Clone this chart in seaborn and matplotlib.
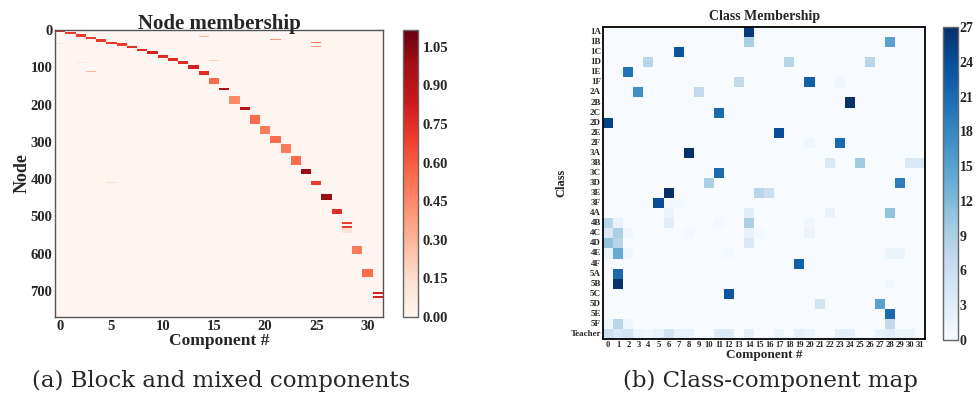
import numpy as np
import pandas as pd
import matplotlib
matplotlib.use("Agg")
import matplotlib.pyplot as plt
import seaborn as sns

sns.set_theme(style="white")
plt.rcParams['font.family'] = ['Liberation Serif', 'DejaVu Serif']
plt.rcParams['font.weight'] = 'bold'

# ---------------- Panel (a): node membership blocks ----------------
n_nodes = 770
n_comp = 32
block_comp  = [0, 1, 2, 3, 4, 5, 6, 7, 8, 9, 10, 11, 12, 13, 14, 15, 16, 17, 18, 19,
               20, 21, 22, 23, 24, 25, 26, 27, 28, 28, 28, 29, 30, 31, 31]
block_start = [0, 6, 12, 18, 25, 31, 36, 42, 50, 57, 66, 75, 83, 95, 110, 130, 155, 178, 206, 229,
               258, 285, 307, 337, 372, 404, 441, 480, 515, 526, 532, 579, 640, 703, 713]
block_end   = [6, 12, 19, 25, 31, 37, 43, 49, 57, 65, 74, 83, 92, 104, 121, 146, 162, 199, 214, 251,
               278, 303, 329, 361, 386, 416, 455, 494, 521, 531, 546, 601, 664, 708, 718]
block_value = [0.75, 0.7, 0.7, 0.7, 0.7, 0.7, 0.7, 0.75, 0.75, 0.8, 0.75, 0.75, 0.75, 0.8, 0.75,
               0.55, 0.95, 0.45, 0.9, 0.55, 0.5, 0.55, 0.5, 0.55, 1.0, 0.7, 1.0, 0.75, 0.7, 0.7,
               0.12, 0.5, 0.55, 0.8, 0.8]
spot_comp  = [14, 21, 25, 25, 15, 2, 3, 4, 5, 7, 0]
spot_start = [17, 24, 31, 44, 80, 86, 111, 294, 409, 412, 35]
spot_end   = [20, 27, 34, 47, 83, 89, 113, 296, 411, 414, 38]
spot_value = [0.3, 0.4, 0.5, 0.4, 0.2, 0.1, 0.3, 0.1, 0.15, 0.15, 0.1]
node_ticks = [0, 100, 200, 300, 400, 500, 600, 700]
comp_ticks = [0, 5, 10, 15, 20, 25, 30]
member_cbar_ticks = [0.00, 0.15, 0.30, 0.45, 0.60, 0.75, 0.90, 1.05]

member = np.zeros((n_nodes, n_comp))
for c, s, e, v in zip(block_comp, block_start, block_end, block_value):
    member[s:e, c] = v
for c, s, e, v in zip(spot_comp, spot_start, spot_end, spot_value):
    member[s:e, c] = np.maximum(member[s:e, c], v)

# ---------------- Panel (b): class-component map ----------------
classes = ['1A', '1B', '1C', '1D', '1E', '1F', '2A', '2B', '2C', '2D', '2E', '2F',
           '3A', '3B', '3C', '3D', '3E', '3F', '4A', '4B', '4C', '4D', '4E', '4F',
           '5A', '5B', '5C', '5D', '5E', '5F', 'Teacher']
map_class = ['1A', '1B', '1B', '1C', '1D', '1D', '1D', '1E', '1E', '1F', '1F', '1F',
             '2A', '2A', '2B', '2C', '2D', '2E', '2F', '2F',
             '3A', '3B', '3B', '3B', '3B', '3C', '3D', '3D', '3E', '3E', '3E', '3F', '3F', '3F',
             '4A', '4A', '4A', '4A', '4B', '4B', '4B', '4B', '4B', '4B',
             '4C', '4C', '4C', '4C', '4C', '4C', '4C', '4D', '4D', '4D',
             '4E', '4E', '4E', '4E', '4E', '4E', '4F', '5A', '5B', '5B', '5C', '5C',
             '5D', '5D', '5E', '5F', '5F', '5F', '5F',
             'Teacher', 'Teacher', 'Teacher', 'Teacher', 'Teacher', 'Teacher', 'Teacher',
             'Teacher', 'Teacher', 'Teacher', 'Teacher', 'Teacher', 'Teacher', 'Teacher',
             'Teacher', 'Teacher', 'Teacher', 'Teacher', 'Teacher', 'Teacher', 'Teacher']
map_comp = [14, 14, 28, 7, 4, 18, 26, 2, 1, 13, 20, 23,
            3, 9, 24, 11, 0, 17, 20, 23,
            8, 22, 25, 30, 31, 11, 10, 29, 6, 15, 16, 5, 6, 7,
            6, 14, 22, 28, 0, 1, 6, 11, 14, 20,
            0, 1, 2, 8, 14, 15, 20, 0, 1, 14,
            0, 1, 2, 12, 28, 29, 19, 1, 1, 28, 1, 12,
            21, 27, 28, 0, 1, 2, 28,
            0, 1, 2, 3, 4, 5, 6,
            7, 8, 11, 12, 14, 17, 19,
            20, 23, 24, 27, 28, 29, 30]
map_value = [26, 9, 15, 23, 8, 8, 8, 20, 0.4, 7, 22, 1,
             17, 7, 27, 21, 25, 24, 1, 21,
             27, 4, 10, 4, 4, 21, 9, 19, 27, 8, 6, 24, 0.5, 0.6,
             1.5, 3, 2, 11, 8, 2, 3, 0.6, 9, 1,
             4, 9, 1, 0.6, 2, 0.6, 1.5, 11, 8, 4,
             1.5, 14, 1, 0.6, 1.5, 1.5, 22, 21, 27, 0.8, 0.3, 23,
             5, 15, 21, 1, 8, 1, 7,
             6, 4, 5, 1.5, 1, 2, 5,
             2, 2, 3.5, 3.5, 2.5, 1.5, 2.5,
             1.5, 2.5, 2.5, 2, 3, 1.5, 1.5]
class_cbar_ticks = [0, 3, 6, 9, 12, 15, 18, 21, 24, 27]

cm = pd.DataFrame(0.0, index=classes, columns=list(range(n_comp)))
for r, c, v in zip(map_class, map_comp, map_value):
    cm.loc[r, c] = v

# ---------------- Figure ----------------
fig = plt.figure(figsize=(9.76, 4.16), dpi=100)
ax1 = fig.add_axes([0.0564, 0.238, 0.336, 0.690])
cax1 = fig.add_axes([0.413, 0.238, 0.0154, 0.690])
ax2 = fig.add_axes([0.618, 0.185, 0.330, 0.750])
cax2 = fig.add_axes([0.966, 0.183, 0.016, 0.752])

sns.heatmap(member, cmap='Reds', vmin=0, vmax=1.115, ax=ax1, cbar_ax=cax1,
            xticklabels=False, yticklabels=False, rasterized=True)
ax1.set_xticks(np.array(comp_ticks) + 0.5)
ax1.set_xticklabels([str(t) for t in comp_ticks], fontsize=10.5, fontweight='bold', rotation=0)
ax1.set_yticks(node_ticks)
ax1.set_yticklabels([str(t) for t in node_ticks], fontsize=10.5, fontweight='bold', rotation=0)
ax1.set_title('Node membership', fontsize=15, fontweight='bold', pad=1)
ax1.set_xlabel('Component #', fontsize=12.5, fontweight='bold', labelpad=0)
ax1.set_ylabel('Node', fontsize=13, fontweight='bold', labelpad=0)
for s in ax1.spines.values():
    s.set_visible(True)
    s.set_color('#555555')
    s.set_linewidth(1.0)
ax1.tick_params(direction='in', length=4, width=0.8, color='#333333', top=True, right=True, pad=2)
cb1 = ax1.collections[0].colorbar
cb1.set_ticks(member_cbar_ticks)
cb1.set_ticklabels(['%.2f' % t for t in member_cbar_ticks])
cb1.ax.tick_params(labelsize=10.5, direction='in', length=4, width=0.8, color='#333333')
for lab in cb1.ax.get_yticklabels():
    lab.set_fontweight('bold')
cb1.outline.set_edgecolor('#666666')
cb1.outline.set_linewidth(1.0)

sns.heatmap(cm, cmap='Blues', vmin=0, vmax=27, ax=ax2, cbar_ax=cax2,
            xticklabels=True, yticklabels=True)
ax2.set_xticklabels([str(c) for c in range(n_comp)], fontsize=6.2, fontweight='bold', rotation=0)
ax2.set_yticklabels(classes, fontsize=6.5, fontweight='bold', rotation=0)
ax2.set_title('Class Membership', fontsize=10, fontweight='bold', pad=5)
ax2.set_xlabel('Component #', fontsize=9.5, fontweight='bold', labelpad=0)
ax2.set_ylabel('Class', fontsize=9, fontweight='bold', labelpad=2)
for s in ax2.spines.values():
    s.set_visible(True)
    s.set_color('black')
    s.set_linewidth(1.3)
ax2.tick_params(direction='in', length=2.5, width=0.6, color='#333333', top=True, right=True, pad=1.5)
cb2 = ax2.collections[0].colorbar
cb2.set_ticks(class_cbar_ticks)
cb2.ax.tick_params(labelsize=10, direction='in', length=4, width=0.8, color='#333333', pad=1)
for lab in cb2.ax.get_yticklabels():
    lab.set_fontweight('bold')
cb2.outline.set_edgecolor('#666666')
cb2.outline.set_linewidth(1.0)

fig.text(0.2265, 0.084, '(a) Block and mixed components', ha='center', va='center',
         fontsize=16.5, family='DejaVu Serif', fontweight='normal')
fig.text(0.789, 0.084, '(b) Class-component map', ha='center', va='center',
         fontsize=16.5, family='DejaVu Serif', fontweight='normal')

fig.savefig('out.png', dpi=100)
